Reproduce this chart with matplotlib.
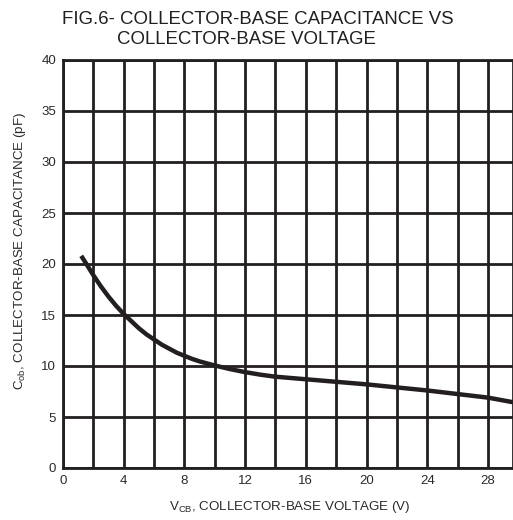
import matplotlib.pyplot as plt
from matplotlib.ticker import MultipleLocator

plt.rcParams['font.family'] = ['Liberation Sans', 'DejaVu Sans']

# DATA
vcb = [1.2, 1.5, 2, 2.5, 3, 3.5, 4, 4.5, 5, 5.5, 6, 6.5, 7, 7.5, 8, 8.5, 9, 9.5,
       10, 11, 12, 13, 14, 16, 18, 20, 22, 24, 26, 28, 29.65]
cob = [20.8, 20.1, 18.9, 17.8, 16.8, 15.9, 15.1, 14.4, 13.7, 13.1, 12.6, 12.1,
       11.7, 11.3, 11.0, 10.7, 10.45, 10.25, 10.05, 9.7, 9.4, 9.15, 8.95,
       8.7, 8.45, 8.2, 7.9, 7.6, 7.25, 6.9, 6.45]

title_lines = ["FIG.6- COLLECTOR-BASE CAPACITANCE VS", "COLLECTOR-BASE VOLTAGE"]
xlabel = r"V$_{\mathregular{CB}}$, COLLECTOR-BASE VOLTAGE (V)"
ylabel = r"C$_{\mathregular{ob}}$, COLLECTOR-BASE CAPACITANCE (pF)"

ink = '#231f20'
txt = '#2a2a2a'

fig = plt.figure(figsize=(5.13, 5.2), dpi=100)
ax = fig.add_axes([63 / 513, 52 / 520, 450 / 513, 408 / 520])

ax.plot(vcb, cob, color=ink, lw=3.2, solid_capstyle='butt', solid_joinstyle='round', zorder=3)

ax.set_xlim(0, 29.65)
ax.set_ylim(0, 40)
ax.xaxis.set_major_locator(MultipleLocator(4))
ax.xaxis.set_minor_locator(MultipleLocator(2))
ax.yaxis.set_major_locator(MultipleLocator(5))
ax.grid(which='both', axis='x', color=ink, lw=2.0)
ax.grid(which='major', axis='y', color=ink, lw=2.0)
ax.tick_params(which='both', length=0, labelsize=9.5, colors=txt, pad=5)
for s in ax.spines.values():
    s.set_color(ink)
    s.set_linewidth(2.0)

fig.text(62 / 513, 1 - 19 / 520, title_lines[0], fontsize=13.4, color=ink, ha='left', va='center')
fig.text(117 / 513, 1 - 40 / 520, title_lines[1], fontsize=13.4, color=ink, ha='left', va='center')

fig.text(290 / 513, 1 - 507 / 520, xlabel, fontsize=9.6, color=txt, ha='center', va='center')
fig.text(20 / 513, 1 - 251 / 520, ylabel, fontsize=9.6, color=txt, ha='center', va='center',
         rotation=90)

fig.savefig('out.png', dpi=100)
